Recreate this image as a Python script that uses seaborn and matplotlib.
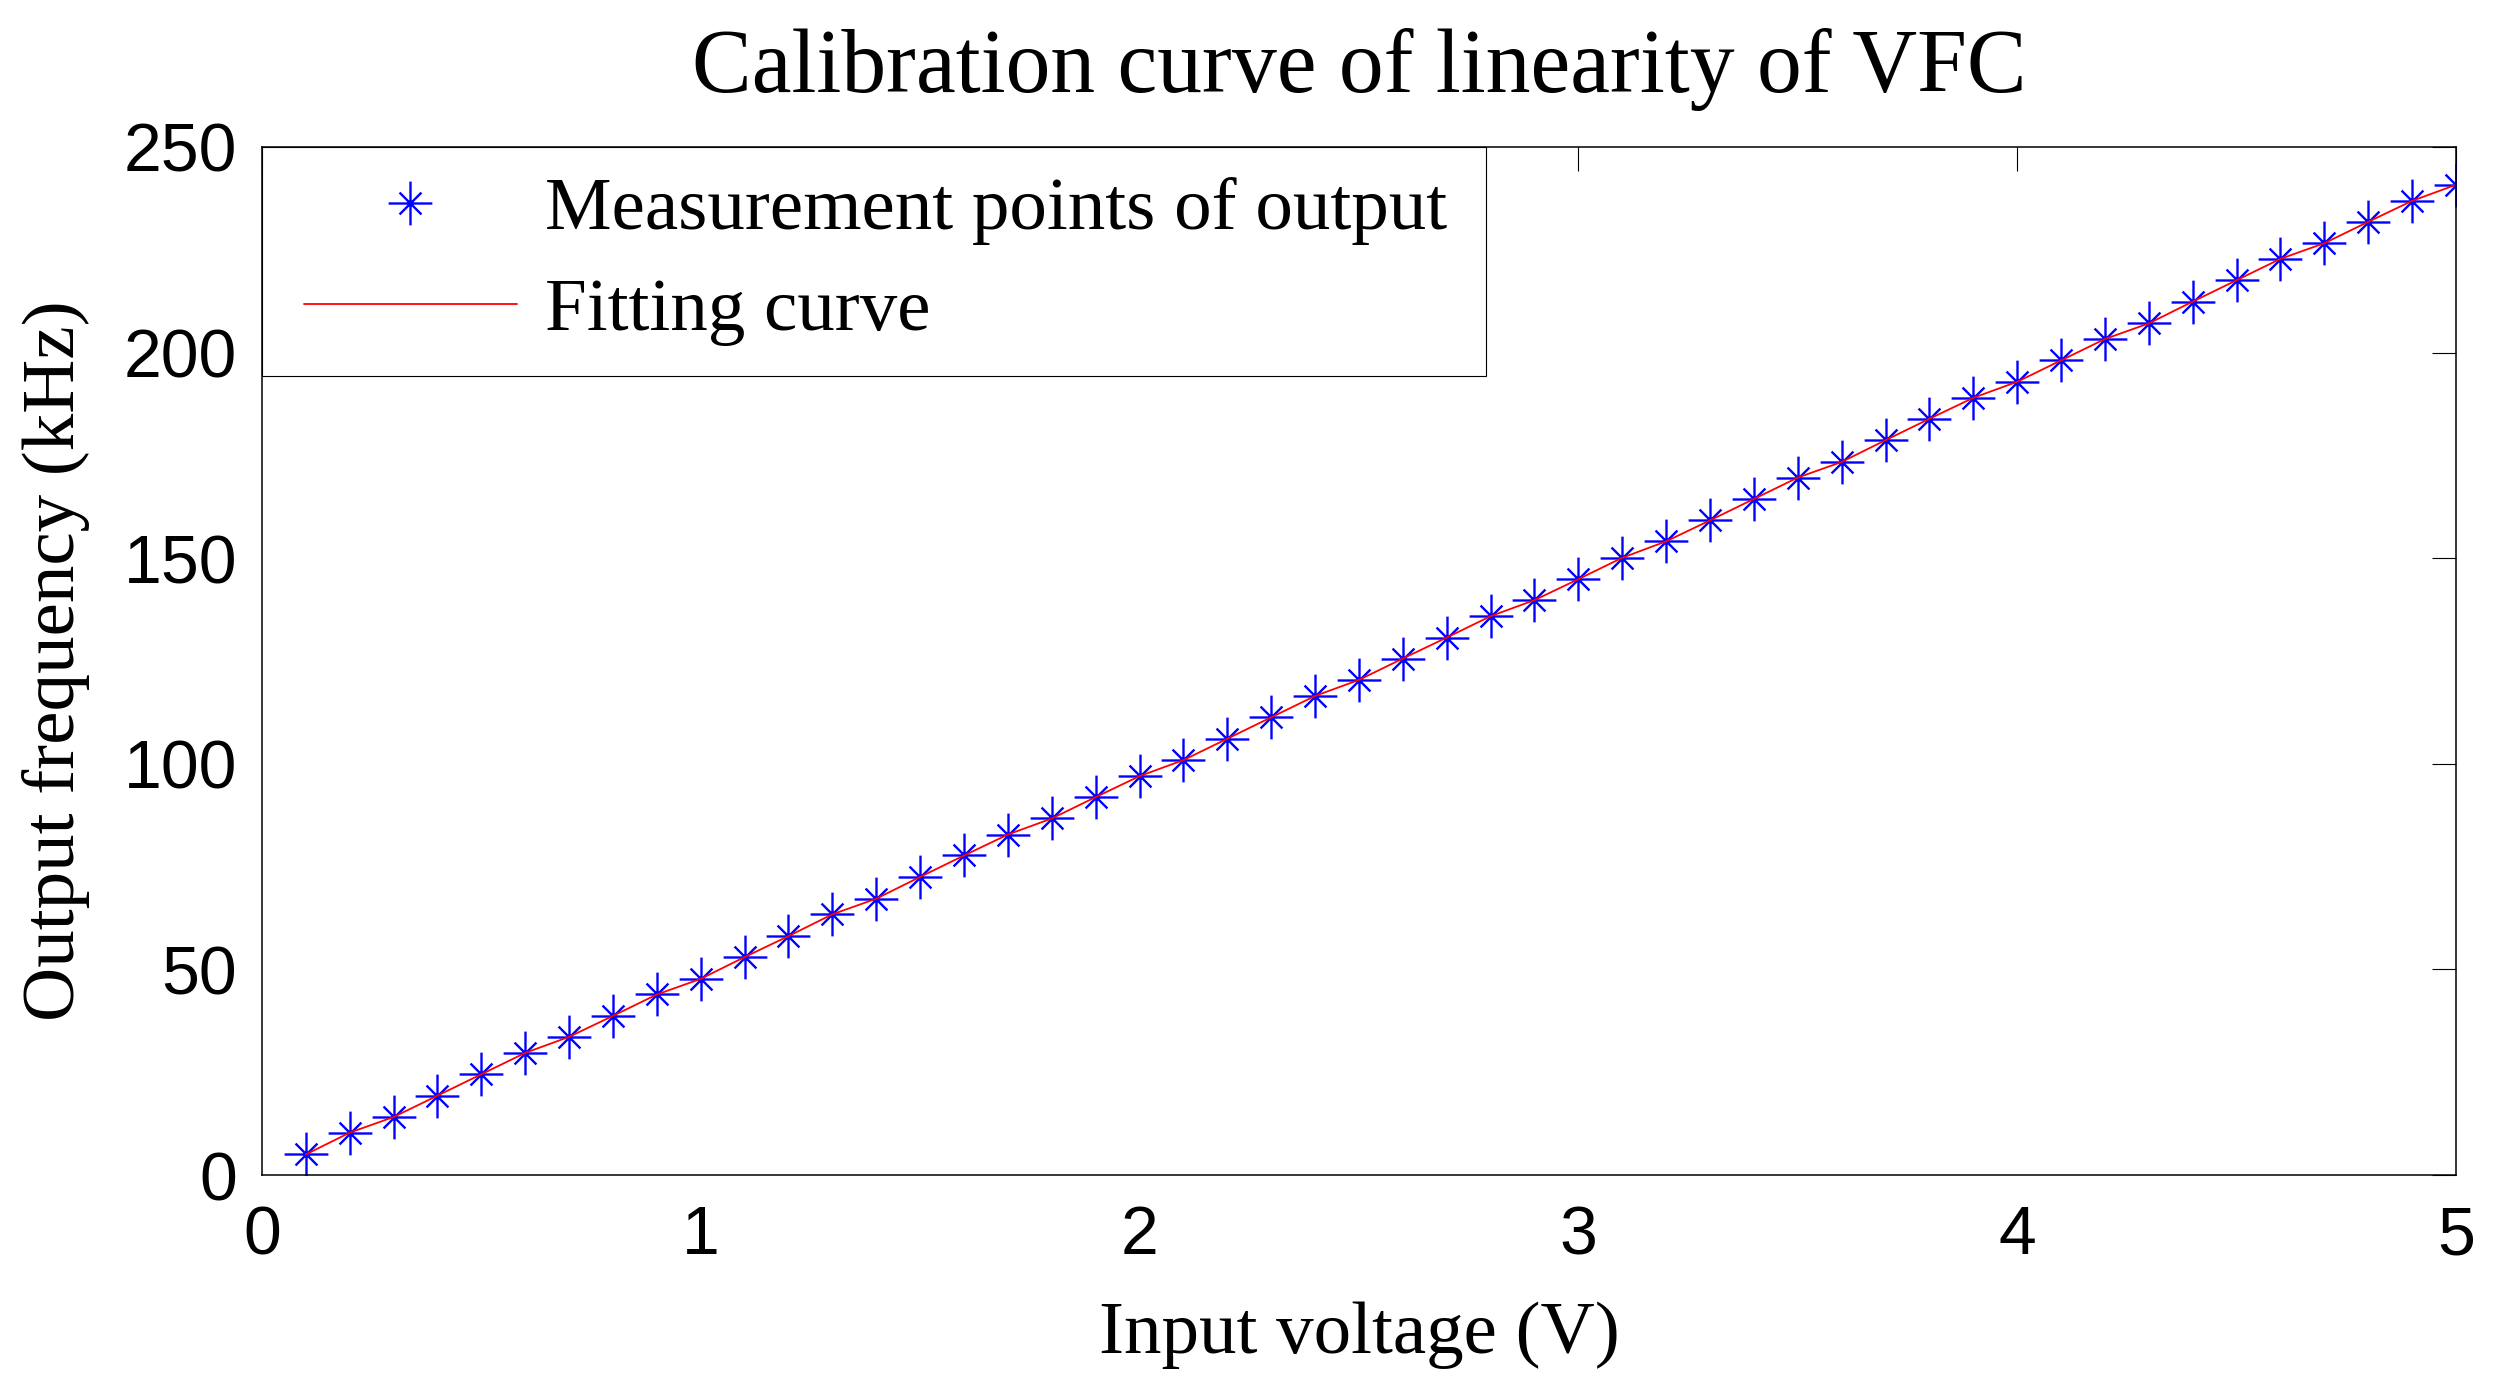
import matplotlib
matplotlib.use("Agg")
import matplotlib.pyplot as plt
import numpy as np
import pandas as pd
import seaborn as sns
from matplotlib.path import Path
from matplotlib.legend_handler import HandlerLine2D

# values
voltage = [0.1, 0.2, 0.3, 0.4, 0.5, 0.6, 0.7, 0.8, 0.9, 1.0,
           1.1, 1.2, 1.3, 1.4, 1.5, 1.6, 1.7, 1.8, 1.9, 2.0,
           2.1, 2.2, 2.3, 2.4, 2.5, 2.6, 2.7, 2.8, 2.9, 3.0,
           3.1, 3.2, 3.3, 3.4, 3.5, 3.6, 3.7, 3.8, 3.9, 4.0,
           4.1, 4.2, 4.3, 4.4, 4.5, 4.6, 4.7, 4.8, 4.9, 5.0]
frequency = [5.0, 10.3, 14.1, 19.3, 24.5, 29.7, 33.6, 38.7, 43.9, 47.7,
             53.0, 58.1, 63.4, 67.2, 72.5, 77.7, 82.8, 86.7, 91.9, 97.0,
             100.9, 106.1, 111.3, 116.5, 120.4, 125.6, 130.7, 135.9, 139.8, 144.9,
             150.1, 154.1, 159.2, 164.4, 169.6, 173.4, 178.7, 183.9, 189.0, 192.9,
             198.1, 203.3, 207.1, 212.4, 217.6, 222.8, 226.6, 231.8, 236.9, 240.8]

x_ticks = [0, 1, 2, 3, 4, 5]
x_tick_labels = ["0", "1", "2", "3", "4", "5"]
y_ticks = [0, 50, 100, 150, 200, 250]
y_tick_labels = ["0", "50", "100", "150", "200", "250"]

title = "Calibration curve of linearity of VFC"
x_label = "Input voltage (V)"
y_label = "Output frequency (kHz)"
series_names = ["Measurement points of output", "Fitting curve"]

df = pd.DataFrame({"voltage": voltage, "frequency": frequency})

sns.set_style("white")
plt.rcParams["font.family"] = ["Liberation Serif", "DejaVu Serif"]
plt.rcParams["axes.linewidth"] = 1.1
plt.rcParams["text.color"] = "black"
plt.rcParams["axes.labelcolor"] = "black"
plt.rcParams["axes.edgecolor"] = "black"

# MATLAB style asterisk: plus with shorter diagonal cross
d = 0.5
asterisk = Path(
    [(-1, 0), (1, 0), (0, -1), (0, 1), (-d, -d), (d, d), (-d, d), (d, -d)],
    [Path.MOVETO, Path.LINETO] * 4,
)

fig = plt.figure(figsize=(24.99, 13.97), dpi=100)
ax = fig.add_axes([0.1048, 0.1589, 0.878, 0.7359])

sns.lineplot(data=df, x="voltage", y="frequency", ax=ax, estimator=None, sort=False,
             linestyle="none", marker=asterisk, markersize=31.5, markeredgewidth=1.7,
             markeredgecolor="#0000ff", markerfacecolor="none", color="#0000ff")
sns.lineplot(data=df, x="voltage", y="frequency", ax=ax, estimator=None, sort=False,
             color="#ff0000", linewidth=1.3)
star_line, fit_line = ax.get_lines()[0], ax.get_lines()[1]

ax.set_xlim(0, 5)
ax.set_ylim(0, 250)
ax.set_xticks(x_ticks, labels=x_tick_labels, fontfamily="Liberation Sans", fontsize=49)
ax.set_yticks(y_ticks, labels=y_tick_labels, fontfamily="Liberation Sans", fontsize=49)
ax.tick_params(axis="both", direction="in", length=17, width=0.8,
               top=True, right=True, colors="black")
ax.tick_params(axis="x", pad=21)
ax.tick_params(axis="y", pad=18)
for side in ax.spines.values():
    side.set_color("black")
    side.set_visible(True)

ax.set_title(title, fontsize=64.5, pad=39.6, color="black")
ax.set_xlabel(x_label, fontsize=54, labelpad=24)
ax.set_ylabel(y_label, fontsize=54, labelpad=24)

handler = HandlerLine2D(xpad=0.16)
leg = ax.legend([star_line, fit_line], series_names,
                handler_map={star_line: handler, fit_line: handler},
                loc="upper left", bbox_to_anchor=(0, 0, 0.558, 1), mode="expand",
                borderaxespad=0, fontsize=54, numpoints=1,
                handlelength=3.0, handletextpad=0.37, borderpad=0.4,
                labelspacing=0.43, fancybox=False, framealpha=1, edgecolor="black")
leg.get_frame().set_linewidth(0.8)
for t in leg.get_texts():
    t.set_color("black")

fig.savefig("out.png", dpi=100)
